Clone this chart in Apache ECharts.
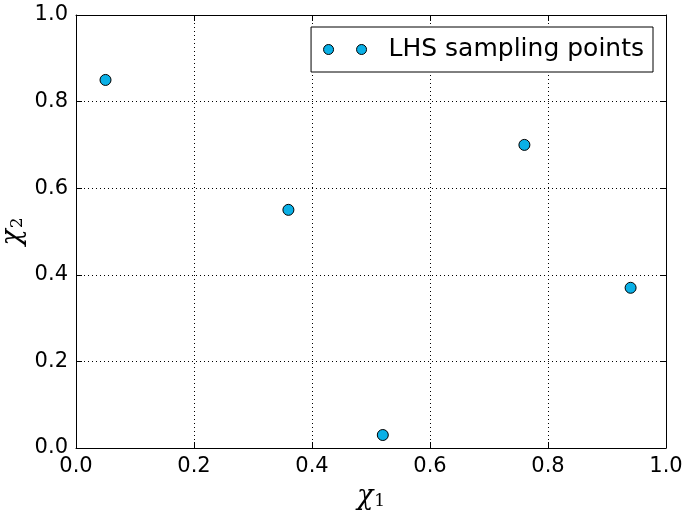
<!DOCTYPE html>
<html>
<head>
<meta charset="utf-8">
<script src="https://cdn.jsdelivr.net/npm/echarts@6/dist/echarts.min.js"></script>
<style>html,body{margin:0;padding:0;background:#fff}#chart{width:685px;height:514px}</style>
</head>
<body>
<div id="chart"></div>
<script>
// LHS sample points (x1, x2)
var x1Values = [0.05, 0.36, 0.52, 0.76, 0.94];
var x2Values = [0.85, 0.55, 0.03, 0.70, 0.37];
var seriesName = 'LHS sampling points';

var points = x1Values.map(function (v, i) { return [v, x2Values[i]]; });

var chart = echarts.init(document.getElementById('chart'));
var font = 'DejaVu Sans';
var grid = { type: [1, 3], color: '#000', width: 1 };
var nameRich = {
	a: { fontFamily: 'DejaVu Serif', fontStyle: 'italic', fontSize: 27, color: '#000', verticalAlign: 'bottom', lineHeight: 30 },
	b: { fontFamily: 'DejaVu Serif', fontSize: 17, color: '#000', verticalAlign: 'bottom', lineHeight: 30, padding: [12, 0, 0, 1] }
};

function axisBase(pos, show) {
	return {
		type: 'value', min: 0, max: 1, interval: 0.2, position: pos,
		axisLine: { show: true, onZero: false, lineStyle: { color: '#000', width: 1 } },
		axisTick: { show: true, inside: true, length: 6, lineStyle: { color: '#000' } },
		axisLabel: { show: show, color: '#000', fontFamily: font, fontSize: 21, margin: 8,
			formatter: function (v) { return v.toFixed(1); } },
		splitLine: { show: show, lineStyle: grid }
	};
}

var xBottom = axisBase('bottom', true);
xBottom.name = '{a|χ}{b|1}';
xBottom.nameLocation = 'middle';
xBottom.nameGap = 32;
xBottom.nameMoveOverlap = false;
xBottom.nameTextStyle = { rich: nameRich };
var yLeft = axisBase('left', true);
yLeft.name = '{a|χ}{b|2}';
yLeft.nameLocation = 'middle';
yLeft.nameGap = 50;
yLeft.nameMoveOverlap = false;
yLeft.nameTextStyle = { rich: nameRich };

var option = {
	animation: false,
	backgroundColor: '#fff',
	grid: { left: 76, right: 19, top: 15, bottom: 66, outerBoundsMode: 'none' },
	xAxis: [xBottom, axisBase('top', false)],
	yAxis: [yLeft, axisBase('right', false)],
	legend: {
		right: 32, top: 27,
		padding: [10, 9, 10, 12],
		itemGap: 0,
		borderColor: '#000', borderWidth: 1, borderRadius: 0,
		backgroundColor: '#fff',
		itemWidth: 43, itemHeight: 10,
		icon: 'path://M0,5a5,5 0 1,0 10,0a5,5 0 1,0 -10,0zM33,5a5,5 0 1,0 10,0a5,5 0 1,0 -10,0z',
		itemStyle: { borderColor: '#000', borderWidth: 1 },
		textStyle: { fontFamily: font, fontSize: 25, color: '#000', padding: [0, 0, 0, 17] },
		data: [seriesName]
	},
	series: [{
		name: seriesName,
		type: 'scatter',
		symbol: 'circle',
		symbolSize: 11,
		itemStyle: { color: '#0ab0e6', borderColor: '#000', borderWidth: 1, opacity: 1 },
		data: points
	}]
};
chart.setOption(option);
</script>
</body>
</html>
